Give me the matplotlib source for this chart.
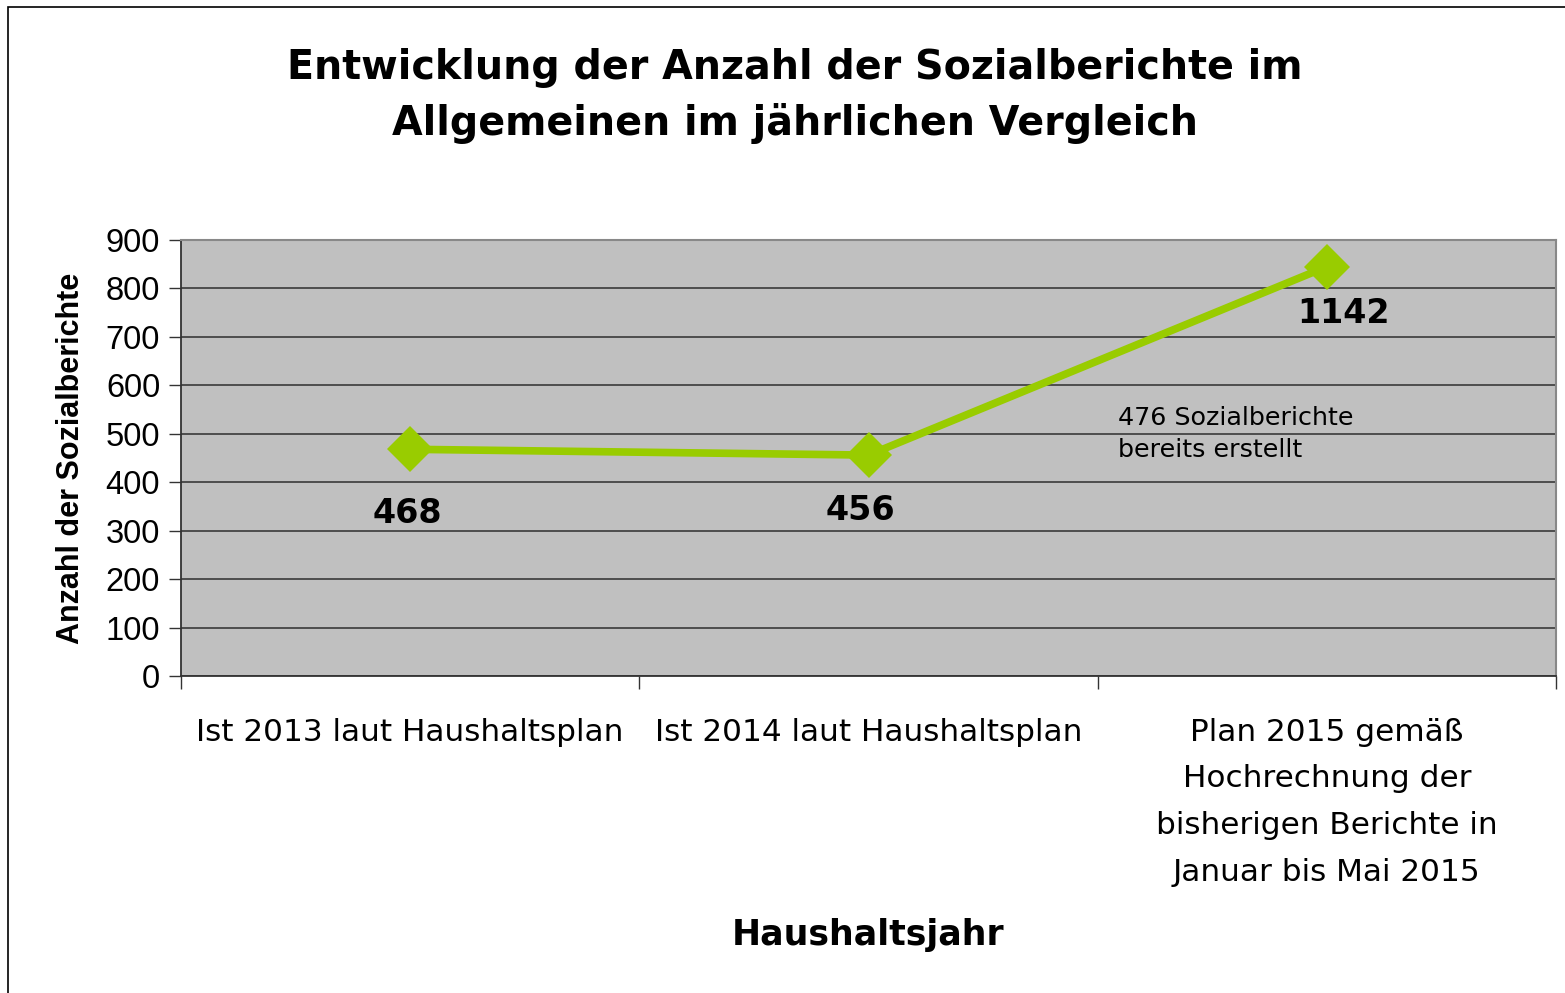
import matplotlib
matplotlib.use('Agg')
import matplotlib.pyplot as plt
from matplotlib.patches import Rectangle
import numpy as np

# Daten
categories = ['Ist 2013 laut Haushaltsplan',
              'Ist 2014 laut Haushaltsplan',
              'Plan 2015 gemäß\nHochrechnung der\nbisherigen Berichte in\nJanuar bis Mai 2015']
values = [468, 456, 845]          # gezeichnete Werte
value_labels = ['468', '456', '1142']
yticks = [0, 100, 200, 300, 400, 500, 600, 700, 800, 900]

fig = plt.figure(figsize=(15.65, 9.93), dpi=100)
fig.patch.set_facecolor('white')

# Rahmen um das Diagramm
fig.add_artist(Rectangle((8 / 1565, -0.05), 1.2, 1 - 7 / 993 + 0.05, transform=fig.transFigure,
                         fill=False, edgecolor='black', linewidth=1.2))

ax = fig.add_axes([181 / 1565, 1 - 676 / 993, (1556 - 181) / 1565, (676 - 240) / 993])
ax.set_facecolor('#c0c0c0')

x = np.arange(len(categories))
ax.plot(x, values, color='#99cc00', linewidth=5.5, marker='D', markersize=23,
        markeredgewidth=0, zorder=5, clip_on=False)

ax.set_xlim(-0.5, 2.5)
ax.set_ylim(0, 900)
ax.set_yticks(yticks)
ax.set_yticklabels([str(v) for v in yticks], fontsize=23.5, family='Liberation Sans')
ax.yaxis.grid(True, color='#444444', linewidth=1.3)
ax.set_axisbelow(True)

ax.set_xticks(x)
ax.set_xticklabels(categories, fontsize=22.4, family='DejaVu Sans', linespacing=1.77)
ax.tick_params(axis='x', length=0, pad=30)
ax.set_xticks([-0.5, 0.5, 1.5, 2.5], minor=True)
ax.tick_params(axis='x', which='minor', length=9, width=1, color='#333333')
ax.tick_params(axis='y', length=9, width=1, color='#333333', pad=6)

for side in ['top', 'right']:
    ax.spines[side].set_color('#888888')
    ax.spines[side].set_linewidth(1.5)
for side in ['left', 'bottom']:
    ax.spines[side].set_color('#333333')
    ax.spines[side].set_linewidth(1.3)

# Datenbeschriftungen
label_offsets = [(-2, -46), (-6, -40), (12, -34)]
for xi, v, lab, off in zip(x, values, value_labels, label_offsets):
    ax.annotate(lab, (xi, v), xytext=off, textcoords='offset points',
                ha='center', va='center', fontsize=24, fontweight='bold',
                family='DejaVu Sans')

ax.text(1.544, 500, '476 Sozialberichte\nbereits erstellt', fontsize=18.3,
        family='DejaVu Sans', ha='left', va='center', linespacing=1.42)

ax.set_ylabel('Anzahl der Sozialberichte', fontsize=22, fontweight='bold',
              family='Liberation Sans', labelpad=14)
fig.text(868 / 1565, 1 - 935 / 993, 'Haushaltsjahr', fontsize=25, fontweight='bold',
         family='DejaVu Sans', ha='center', va='center')

fig.text(795 / 1565, 1 - 96 / 993,
         'Entwicklung der Anzahl der Sozialberichte im\nAllgemeinen im jährlichen Vergleich',
         fontsize=28.5, fontweight='bold', family='DejaVu Sans', ha='center', va='center',
         linespacing=1.5)

fig.savefig('out.png', dpi=100, facecolor='white')
